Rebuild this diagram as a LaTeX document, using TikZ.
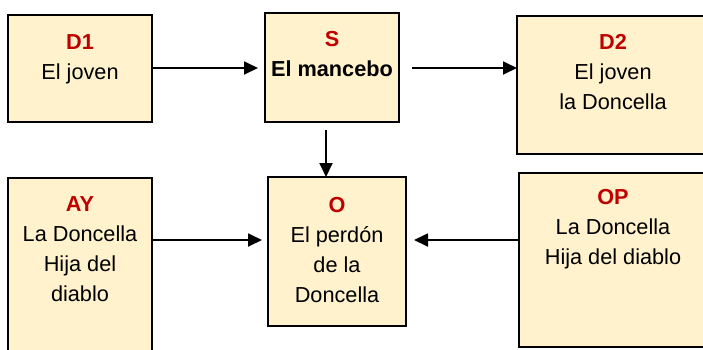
\documentclass[tikz,border=0pt]{standalone}
\usepackage{fontspec}
\setmainfont{Liberation Sans}
\usetikzlibrary{arrows.meta}
\definecolor{cream}{HTML}{FFF2CC}
\definecolor{titred}{HTML}{C00000}
\begin{document}
\begin{tikzpicture}[x=1pt,y=-1pt,
  box/.style={draw=black, line width=2pt, fill=cream, anchor=north west, inner sep=0pt, outer sep=0pt},
  lbl/.style={anchor=north, align=center, inner sep=0pt, font=\fontsize{21.7}{30}\selectfont},
  arr/.style={-{Triangle[length=14pt,width=13pt]}, line width=1.8pt}]
\useasboundingbox (0,0) rectangle (703,349);
\clip (0,0) rectangle (703,349);
% boxes
\node[box, minimum width=144pt, minimum height=107pt] (d1) at (8,15) {};
\node[box, minimum width=134pt, minimum height=109pt] (s) at (265,13) {};
\node[box, minimum width=203pt, minimum height=138pt] (d2) at (517,16) {};
\node[box, minimum width=144pt, minimum height=192pt] (ay) at (8,178) {};
\node[box, minimum width=138pt, minimum height=149pt] (o) at (268,177) {};
\node[box, minimum width=203pt, minimum height=174pt] (op) at (519,173) {};
% texts
\node[lbl] (d1t) at (80,34.5) {\textcolor{titred}{\bfseries D1}\\El joven};
\node[lbl] (st) at (332,31.5) {\textcolor{titred}{\bfseries S}\\\bfseries El mancebo};
\node[lbl] (d2t) at (613,34.5) {\textcolor{titred}{\bfseries D2}\\El joven\\la Doncella};
\node[lbl] (ayt) at (80,196.5) {\textcolor{titred}{\bfseries AY}\\La Doncella\\Hija del\\diablo};
\node[lbl] (ot) at (337,197.5) {\textcolor{titred}{\bfseries O}\\El perdón\\de la\\Doncella};
\node[lbl] (opt) at (613,189.5) {\textcolor{titred}{\bfseries OP}\\La Doncella\\Hija del diablo};
% connectors
\coordinate (ain) at (152,68);
\draw[arr, shorten >=7pt] (d1.east |- ain) -- (s.west |- ain);
\draw[arr, shorten <=13pt] (s.east |- ain) -- (d2.west |- ain);
\coordinate (vx) at (326,0);
\draw[arr] ([yshift=-8pt]s.south -| vx) -- (o.north -| vx);
\coordinate (hy) at (0,240);
\draw[arr, shorten >=6pt] (ay.east |- hy) -- (o.west |- hy);
\draw[arr, shorten >=8pt] (op.west |- hy) -- (o.east |- hy);
\end{tikzpicture}
\end{document}
